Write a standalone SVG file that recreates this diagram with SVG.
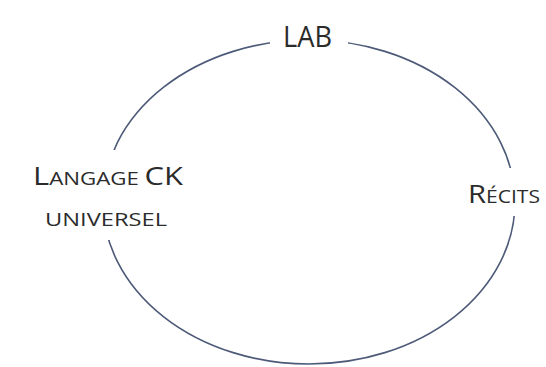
<svg xmlns="http://www.w3.org/2000/svg" width="546" height="367" viewBox="0 0 546 367">
<style>
.lbl{font-family:"Open Sans","Liberation Sans",sans-serif;fill:#2b2b2b}
.big{font-size:25px}
.sm{font-size:18px}
.mask{fill:#ffffff}
</style>
<rect width="546" height="367" fill="#ffffff"/>
<g id="connectors">
<ellipse cx="309" cy="202" rx="206" ry="162" fill="none" stroke="#4d5a78" stroke-width="1.6"/>
</g>
<g id="node-lab">
<rect class="mask" x="270" y="18" width="78" height="40"/>
<text class="lbl" x="283" y="47" font-size="29" textLength="49" lengthAdjust="spacingAndGlyphs">LAB</text>
</g>
<g id="node-langage">
<rect class="mask" x="25" y="150" width="175" height="90"/>
<text class="lbl" x="33" y="185" textLength="150" lengthAdjust="spacingAndGlyphs"><tspan class="big">L</tspan><tspan class="sm">ANGAGE </tspan><tspan class="big">CK</tspan></text>
<text class="lbl sm" x="45" y="226" textLength="122" lengthAdjust="spacingAndGlyphs">UNIVERSEL</text>
</g>
<g id="node-recits">
<rect class="mask" x="460" y="168" width="86" height="48"/>
<text class="lbl" x="468" y="203" textLength="72" lengthAdjust="spacingAndGlyphs"><tspan class="big">R</tspan><tspan class="sm">ÉCITS</tspan></text>
</g>
</svg>
